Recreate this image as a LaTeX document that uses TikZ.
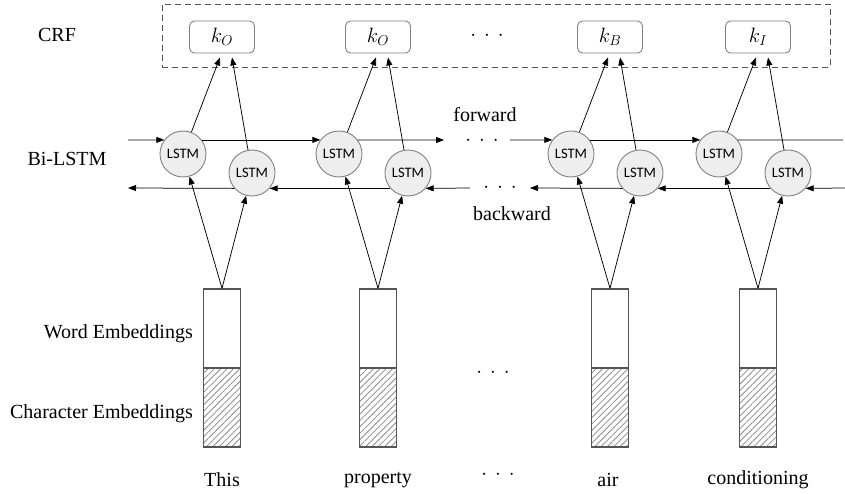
\documentclass[tikz,border=0pt]{standalone}
\usepackage{fontspec}
\setmainfont{Liberation Serif}
\newfontfamily\timesfont{Liberation Serif}
\newfontfamily\lstmfont{Carlito}
\usetikzlibrary{arrows.meta,patterns.meta}
\definecolor{cborder}{HTML}{808080}
\definecolor{cfill}{HTML}{EEEEEE}
\definecolor{bborder}{HTML}{555555}
\definecolor{hatch}{HTML}{8C8C8C}
\newcommand{\mydots}{\smash{${\cdot}\hspace{8pt}{\cdot}\hspace{8pt}{\cdot}$}}
\begin{document}
\begin{tikzpicture}[x=1pt,y=-1pt,
  lbl/.style={font=\timesfont\fontsize{20}{23}\selectfont, inner sep=0},
  lstm/.style={circle, draw=cborder, fill=cfill, line width=0.9pt, minimum size=46pt, inner sep=0, font=\lstmfont\fontsize{14.5}{16}\selectfont},
  kbox/.style={draw=cborder, rounded corners=5pt, minimum width=65pt, minimum height=32pt, line width=0.9pt, inner sep=0, font=\fontsize{21}{24}\selectfont},
  wbar/.style={draw=bborder, line width=1.3pt, minimum width=37pt, minimum height=79pt, inner sep=0},
  cbar/.style={wbar, pattern={Lines[angle=45,distance=4.5pt,line width=0.8pt]}, pattern color=hatch},
  arr/.style={-{Triangle[length=8pt,width=6pt]}, line width=0.75pt},
  ln/.style={line width=0.75pt},
  dotsn/.style={font=\fontsize{20}{22}\selectfont, inner sep=0}
]
\useasboundingbox (0,0) rectangle (845,494);
% CRF dashed box
\node[draw=bborder, dashed, dash pattern=on 6pt off 4pt, line width=0.9pt, minimum width=668pt, minimum height=63pt, inner sep=0] (crf) at (496,35.5) {};
% columns
\foreach \i/\x/\s in {1/222/O, 2/378/O, 3/610/B, 4/758/I}{
  \node[kbox] (k\i) at (\x,37) {$k_\s$};
  \node[lstm] (u\i) at ({\x-39},154) {LSTM};
  \node[lstm] (l\i) at ({\x+30},173) {LSTM};
  \node[wbar] (wb\i) at (\x,328.5) {};
  \node[cbar] (cb\i) at (\x,407.5) {};
  \draw[arr] (wb\i.north) -- (u\i);
  \draw[arr] (wb\i.north) -- (l\i);
  \draw[arr] (u\i) -- ([xshift=-2pt,yshift=-4pt]k\i.south);
  \draw[arr] (l\i) -- ([xshift=10pt,yshift=-4pt]k\i.south);
}
% free ends
\coordinate (fin) at (128,140);
\coordinate (f2end) at (444,140);
\coordinate (f3start) at (510,140);
\coordinate (fout) at (843,140);
\coordinate (bout) at (128,188);
\coordinate (b2start) at (470,188);
\coordinate (b3end) at (530,188);
\coordinate (bin) at (845,188);
% forward
\draw[arr] (fin) -- (u1.143);
\draw[arr] (u1.37) -- (u2.143);
\draw[arr] (u2.37) -- (f2end);
\draw[arr] (f3start) -- (u3.143);
\draw[arr] (u3.37) -- (u4.143);
\draw[ln] (u4.37) -- (fout);
% backward
\draw[arr] (l1.221) -- (bout);
\draw[arr] (l2.221) -- (l1.319);
\draw[arr] (b2start) -- (l2.319);
\draw[arr] (l3.221) -- (b3end);
\draw[arr] (l4.221) -- (l3.319);
\draw[arr] (bin) -- (l4.319);
% labels
\node[lbl] (tcrf) at (57,35) {CRF};
\node[lbl] (tbi) at (67,159) {Bi-LSTM};
\node[lbl, anchor=east] (twe) at (193,334) {Word Embeddings};
\node[lbl, anchor=east] (tce) at (193,414) {Character Embeddings};
\node[lbl] (tfw) at (485,115) {forward};
\node[lbl] (tbw) at (512,214) {backward};
\node[lbl] (w1) at (222,480) {This};
\node[lbl] (w2) at (378,480) {property};
\node[lbl] (w3) at (608,480) {air};
\node[lbl] (w4) at (758,480) {conditioning};
% dots (baseline placed below the dot centres)
\node[dotsn] (d1) at (487,41) {\mydots};
\node[dotsn] (d2) at (482,146) {\mydots};
\node[dotsn] (d3) at (500,193) {\mydots};
\node[dotsn] (d4) at (493,377) {\mydots};
\node[dotsn] (d5) at (498,479) {\mydots};
\end{tikzpicture}
\end{document}
